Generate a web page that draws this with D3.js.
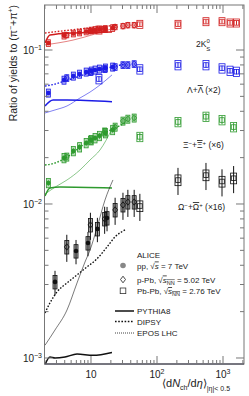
<!DOCTYPE html>
<html lang="en">
<head>
<meta charset="UTF-8">
<title>Strangeness ratios</title>
<script src="https://d3js.org/d3.v7.min.js"></script>
<style>
  body { margin: 0; background: #fff; }
  svg text { font-family: "Liberation Sans", Arial, sans-serif; fill: #222; }
</style>
</head>
<body>
<div id="chart"></div>
<script>
// multiplicity classes <dNch/deta>
const ppMult = [2.26, 3.90, 5.40, 6.72, 8.45, 10.08, 11.51, 13.46, 16.51, 21.29];
const ppMultOmega = [2.85, 5.93, 9.0, 12.5, 17.5];
const pPbMult = [4.3, 9.8, 16.1, 23.2, 30.5, 36.2, 45.1];
const pbPbMult = [13.2, 55, 208, 552, 966, 1277, 1601];
const pbPbMultMulti = [55, 208, 552, 966, 1448];

// 2K0S / pi
const kPP = [0.111, 0.124, 0.128, 0.130, 0.132, 0.134, 0.135, 0.136, 0.137, 0.139];
const kPPb = [0.125, 0.133, 0.137, 0.141, 0.143, 0.145, 0.145];
const kPbPb = [0.135, 0.147, 0.147, 0.153, 0.153, 0.150, 0.150];
// (Lambda + antiLambda) x2
const lamPP = [0.0526, 0.0638, 0.0678, 0.0698, 0.0720, 0.0731, 0.0742, 0.0753, 0.0765, 0.0776];
const lamPPb = [0.0658, 0.0720, 0.0753, 0.0776, 0.0799, 0.0799, 0.0811];
const lamPbPb = [0.0648, 0.0750, 0.0799, 0.0799, 0.0761, 0.0734, 0.0723];
// Xi x6
const xiPP = [0.0137, 0.0199, 0.0221, 0.0234, 0.0249, 0.0260, 0.0268, 0.0277, 0.0289, 0.0303];
const xiPPb = [0.0202, 0.0260, 0.0294, 0.0316, 0.0346, 0.0356, 0.0362];
const xiPbPb = [0.0273, 0.0341, 0.0369, 0.0351, 0.0316];
// Omega x16
const omPP = [0.00312, 0.00495, 0.00558, 0.00689, 0.00811];
const omPPb = [0.00526, 0.00731, 0.00800, 0.00915, 0.00986, 0.0103, 0.0103];
const omPbPb = [0.00970, 0.0143, 0.0154, 0.0140, 0.0147];

// relative uncertainties [pp, p-Pb, Pb-Pb]
const statK = [0.02, 0.01, 0.03], sysK = [0.05, 0.04, 0.06];
const statL = [0.02, 0.02, 0.04], sysL = [0.06, 0.05, 0.07];
const statX = [0.04, 0.03, 0.06], sysX = [0.07, 0.06, 0.07];
const statO = [0.18, 0.2, 0.2], sysO = [0.1, 0.1, 0.08];

// model curves [dNch/deta, ratio]
const pythiaK = [[2.01, 0.111], [2.39, 0.125], [5.34, 0.129], [20.8, 0.131]];
const dipsyK = [[2.01, 0.129], [6.81, 0.137], [24.8, 0.145]];
const eposK = [[2.01, 0.108], [5.34, 0.116], [11.5, 0.127], [24.8, 0.141]];
const pythiaL = [[2.01, 0.0433], [2.66, 0.0473], [4.33, 0.0473], [20.8, 0.0461]];
const dipsyL = [[2.01, 0.0583], [2.85, 0.0601], [4.04, 0.0629], [6.81, 0.0678], [11.5, 0.0731], [20.8, 0.0776], [32.7, 0.0811]];
const eposL = [[2.01, 0.0390], [2.85, 0.0408], [4.33, 0.0433], [6.81, 0.0488], [9.66, 0.0533], [13.7, 0.0593], [20.8, 0.0689]];
const pythiaX = [[2.01, 0.01127], [2.39, 0.0127], [3.39, 0.01289], [20.8, 0.0127]];
const dipsyX = [[2.01, 0.01791], [2.85, 0.01845], [4.33, 0.02018], [7.57, 0.02415], [13.7, 0.02806], [24.8, 0.0316], [32.7, 0.0336]];
const eposX = [[2.01, 0.01161], [3.05, 0.01309], [4.33, 0.01432], [6.81, 0.01663], [9.66, 0.01931], [13.7, 0.02244], [20.8, 0.0307]];
const pythiaO = [[1.975, 0.000888], [2.39, 0.001015], [2.85, 0.001], [4.04, 0.001015], [6.14, 0.00106], [10.7, 0.00104], [20.8, 0.001086]];
const dipsyO = [[2.01, 0.00196], [2.39, 0.00228], [3.05, 0.00268], [4.33, 0.00307], [6.14, 0.00346], [8.69, 0.00390], [12.3, 0.00440], [17.5, 0.00526], [23.1, 0.00611], [32.7, 0.00678]];
const eposO = [[2.01, 0.00121], [2.85, 0.00152], [4.33, 0.00205], [6.14, 0.00307], [8.11, 0.00420], [9.66, 0.00502], [12.3, 0.00698], [16.3, 0.01062], [21.5, 0.01432]];

const width = 249, height = 396;
const margin = { left: 44.5, right: 244, top: 5, bottom: 364 };

const svg = d3.select("#chart").append("svg").attr("width", width).attr("height", height);

const x = d3.scaleLog().domain([1.975, 2080]).range([margin.left, margin.right]);
const y = d3.scaleLog().domain([0.000914, 0.196]).range([margin.bottom, margin.top]);

svg.append("clipPath").attr("id", "clip")
  .append("rect").attr("x", margin.left).attr("y", margin.top)
  .attr("width", margin.right - margin.left).attr("height", margin.bottom - margin.top);
const plot = svg.append("g").attr("clip-path", "url(#clip)");

// model curves
const line = d3.line().x(d => x(d[0])).y(d => y(d[1])).curve(d3.curveMonotoneX);
const species = [
  { color: "#d11f1f", pythia: pythiaK, dipsy: dipsyK, epos: eposK },
  { color: "#1c1ce6", pythia: pythiaL, dipsy: dipsyL, epos: eposL },
  { color: "#2e9a2e", pythia: pythiaX, dipsy: dipsyX, epos: eposX },
  { color: "#111111", pythia: pythiaO, dipsy: dipsyO, epos: eposO }
];
species.forEach(s => {
  plot.append("path").attr("d", line(s.epos)).attr("fill", "none")
    .attr("stroke", s.color).attr("stroke-width", 0.7).attr("opacity", 0.8);
  plot.append("path").attr("d", line(s.dipsy)).attr("fill", "none")
    .attr("stroke", s.color).attr("stroke-width", 1.4).attr("stroke-dasharray", "1.6,1.6");
  plot.append("path").attr("d", line(s.pythia)).attr("fill", "none")
    .attr("stroke", s.color).attr("stroke-width", 1.5);
});

// data points
function drawSeries(mult, vals, stat, sys, color, kind) {
  const g = plot.append("g");
  const boxW = kind === "PbPb" ? 6 : 4;
  vals.forEach((v, i) => {
    const cx = x(mult[i]);
    g.append("rect")
      .attr("x", cx - boxW / 2).attr("y", y(v * (1 + sys)))
      .attr("width", boxW).attr("height", y(v * (1 - sys)) - y(v * (1 + sys)))
      .attr("fill", kind === "PbPb" ? "none" : color).attr("fill-opacity", kind === "PbPb" ? 0 : 0.35)
      .attr("stroke", color).attr("stroke-width", 0.8);
    g.append("line")
      .attr("x1", cx).attr("x2", cx)
      .attr("y1", y(v * (1 - stat))).attr("y2", y(v * (1 + stat)))
      .attr("stroke", color).attr("stroke-width", 1);
    const cy = y(v);
    if (kind === "pp") {
      g.append("circle").attr("cx", cx).attr("cy", cy).attr("r", 2.3).attr("fill", color);
    } else if (kind === "pPb") {
      g.append("path").attr("d", `M${cx},${cy - 3.2}L${cx + 2.4},${cy}L${cx},${cy + 3.2}L${cx - 2.4},${cy}Z`)
        .attr("fill", "none").attr("stroke", color).attr("stroke-width", 0.9);
    } else {
      g.append("rect").attr("x", cx - 2.3).attr("y", cy - 2.3).attr("width", 4.6).attr("height", 4.6)
        .attr("fill", "none").attr("stroke", color).attr("stroke-width", 0.8);
    }
  });
}

drawSeries(ppMult, kPP, statK[0], sysK[0], species[0].color, "pp");
drawSeries(pPbMult, kPPb, statK[1], sysK[1], species[0].color, "pPb");
drawSeries(pbPbMult, kPbPb, statK[2], sysK[2], species[0].color, "PbPb");
drawSeries(ppMult, lamPP, statL[0], sysL[0], species[1].color, "pp");
drawSeries(pPbMult, lamPPb, statL[1], sysL[1], species[1].color, "pPb");
drawSeries(pbPbMult, lamPbPb, statL[2], sysL[2], species[1].color, "PbPb");
drawSeries(ppMult, xiPP, statX[0], sysX[0], species[2].color, "pp");
drawSeries(pPbMult, xiPPb, statX[1], sysX[1], species[2].color, "pPb");
drawSeries(pbPbMultMulti, xiPbPb, statX[2], sysX[2], species[2].color, "PbPb");
drawSeries(ppMultOmega, omPP, statO[0], sysO[0], species[3].color, "pp");
drawSeries(pPbMult, omPPb, statO[1], sysO[1], species[3].color, "pPb");
drawSeries(pbPbMultMulti, omPbPb, statO[2], sysO[2], species[3].color, "PbPb");

// frame and ticks
const frame = "#777";
svg.append("rect").attr("x", margin.left).attr("y", margin.top)
  .attr("width", margin.right - margin.left).attr("height", margin.bottom - margin.top)
  .attr("fill", "none").attr("stroke", frame).attr("stroke-width", 1);
svg.append("line").attr("x1", margin.left).attr("x2", margin.right).attr("y1", margin.bottom).attr("y2", margin.bottom)
  .attr("stroke", "#334").attr("stroke-width", 1);

const xTicks = [];
for (let e = 0; e <= 3; e++) for (let m = 1; m <= 9; m++) {
  const v = m * Math.pow(10, e);
  if (v >= 1.975 && v <= 2080) xTicks.push({ v, major: m === 1 });
}
xTicks.forEach(t => {
  const px = x(t.v), len = t.major ? 8 : 4;
  svg.append("line").attr("x1", px).attr("x2", px).attr("y1", margin.bottom).attr("y2", margin.bottom - len).attr("stroke", frame);
  svg.append("line").attr("x1", px).attr("x2", px).attr("y1", margin.top).attr("y2", margin.top + len).attr("stroke", frame);
});
const yTicks = [];
for (let e = -4; e <= -1; e++) for (let m = 1; m <= 9; m++) {
  const v = m * Math.pow(10, e);
  if (v >= 0.000914 && v <= 0.196) yTicks.push({ v, major: m === 1 });
}
yTicks.forEach(t => {
  const py = y(t.v), len = t.major ? 8 : 4;
  svg.append("line").attr("x1", margin.left).attr("x2", margin.left + len).attr("y1", py).attr("y2", py).attr("stroke", frame);
  svg.append("line").attr("x1", margin.right).attr("x2", margin.right - len).attr("y1", py).attr("y2", py).attr("stroke", frame);
});

// tick labels
function powLabel(xp, yp, exp, anchor) {
  const t = svg.append("text").attr("x", xp).attr("y", yp).attr("text-anchor", anchor).attr("font-size", 10);
  t.append("tspan").text("10");
  if (exp !== "") t.append("tspan").attr("dy", -4).attr("font-size", 7).text(exp);
}
powLabel(x(10), 378, "", "middle");
powLabel(x(100), 378, "2", "middle");
powLabel(x(1000), 378, "3", "middle");
powLabel(42, y(0.1) + 4, "\u22121", "end");
powLabel(42, y(0.01) + 4, "\u22122", "end");
powLabel(42, y(0.001) + 4, "\u22123", "end");

// axis titles
const yt = svg.append("text").attr("transform", `translate(17,5) rotate(-90)`)
  .attr("text-anchor", "end").attr("font-size", 10.5);
yt.append("tspan").text("Ratio of yields to (\u03c0");
yt.append("tspan").attr("dy", -4).attr("font-size", 7).text("\u2212");
yt.append("tspan").attr("dy", 4).text("+\u03c0");
yt.append("tspan").attr("dy", -4).attr("font-size", 7).text("+");
yt.append("tspan").attr("dy", 4).text(")");

const xt = svg.append("text").attr("x", 162).attr("y", 387).attr("font-size", 11);
xt.append("tspan").text("\u27e8d");
xt.append("tspan").attr("font-style", "italic").text("N");
xt.append("tspan").attr("dy", 3).attr("font-size", 7).text("ch");
xt.append("tspan").attr("dy", -3).text("/d");
xt.append("tspan").attr("font-style", "italic").text("\u03b7");
xt.append("tspan").text("\u27e9");
xt.append("tspan").attr("dy", 4).attr("font-size", 7).text("|\u03b7|< 0.5");

// species labels
const lab1 = svg.append("text").attr("x", 196).attr("y", 47).attr("font-size", 8.5);
lab1.append("tspan").text("2K");
lab1.append("tspan").attr("dy", -4).attr("font-size", 6).text("0");
lab1.append("tspan").attr("dx", -3.4).attr("dy", 7.5).attr("font-size", 6).text("S");

const lab2 = svg.append("text").attr("x", 187).attr("y", 93).attr("font-size", 8.5);
lab2.append("tspan").text("\u039b+");
lab2.append("tspan").attr("text-decoration", "overline").text("\u039b");
lab2.append("tspan").text(" (\u00d72)");

const lab3 = svg.append("text").attr("x", 183).attr("y", 148).attr("font-size", 8.5);
lab3.append("tspan").text("\u039e");
lab3.append("tspan").attr("dy", -3.5).attr("font-size", 6).text("\u2212");
lab3.append("tspan").attr("dy", 3.5).text("+");
lab3.append("tspan").attr("text-decoration", "overline").text("\u039e");
lab3.append("tspan").attr("dy", -3.5).attr("font-size", 6).text("+");
lab3.append("tspan").attr("dy", 3.5).text(" (\u00d76)");

const lab4 = svg.append("text").attr("x", 178).attr("y", 210).attr("font-size", 8.5);
lab4.append("tspan").text("\u03a9");
lab4.append("tspan").attr("dy", -3.5).attr("font-size", 6).text("\u2212");
lab4.append("tspan").attr("dy", 3.5).text("+");
lab4.append("tspan").attr("text-decoration", "overline").text("\u03a9");
lab4.append("tspan").attr("dy", -3.5).attr("font-size", 6).text("+");
lab4.append("tspan").attr("dy", 3.5).text(" (\u00d716)");

// legend
const lx = 137;
svg.append("text").attr("x", lx).attr("y", 258).attr("font-size", 8).text("ALICE");
svg.append("circle").attr("cx", 123).attr("cy", 265.5).attr("r", 2.8).attr("fill", "#888");
const l1 = svg.append("text").attr("x", lx).attr("y", 268.5).attr("font-size", 8);
l1.append("tspan").text("pp, \u221a");
l1.append("tspan").attr("text-decoration", "overline").attr("font-style", "italic").text("s");
l1.append("tspan").text(" = 7 TeV");
svg.append("path").attr("d", "M123,276.2L125.5,279.5L123,282.8L120.5,279.5Z")
  .attr("fill", "none").attr("stroke", "#333").attr("stroke-width", 0.9);
const l2 = svg.append("text").attr("x", lx).attr("y", 282.5).attr("font-size", 8);
l2.append("tspan").text("p-Pb, \u221a");
l2.append("tspan").attr("text-decoration", "overline").attr("font-style", "italic").text("s");
l2.append("tspan").attr("dy", 2).attr("font-size", 5.5).attr("text-decoration", "overline").text("NN");
l2.append("tspan").attr("dy", -2).text(" = 5.02 TeV");
svg.append("rect").attr("x", 120.2).attr("y", 288).attr("width", 5.6).attr("height", 5.6)
  .attr("fill", "none").attr("stroke", "#333").attr("stroke-width", 0.8);
const l3 = svg.append("text").attr("x", lx).attr("y", 294).attr("font-size", 8);
l3.append("tspan").text("Pb-Pb, \u221a");
l3.append("tspan").attr("text-decoration", "overline").attr("font-style", "italic").text("s");
l3.append("tspan").attr("dy", 2).attr("font-size", 5.5).attr("text-decoration", "overline").text("NN");
l3.append("tspan").attr("dy", -2).text(" = 2.76 TeV");

const models = [
  { name: "PYTHIA8", y: 311, w: 1.5, dash: null },
  { name: "DIPSY", y: 321.5, w: 1.3, dash: "1.6,1.6" },
  { name: "EPOS LHC", y: 333, w: 0.8, dash: "1,1" }
];
models.forEach(m => {
  const l = svg.append("line").attr("x1", 115).attr("x2", 134).attr("y1", m.y).attr("y2", m.y)
    .attr("stroke", "#111").attr("stroke-width", m.w);
  if (m.dash) l.attr("stroke-dasharray", m.dash);
  svg.append("text").attr("x", lx).attr("y", m.y + 3).attr("font-size", 8).text(m.name);
});
</script>
</body>
</html>
